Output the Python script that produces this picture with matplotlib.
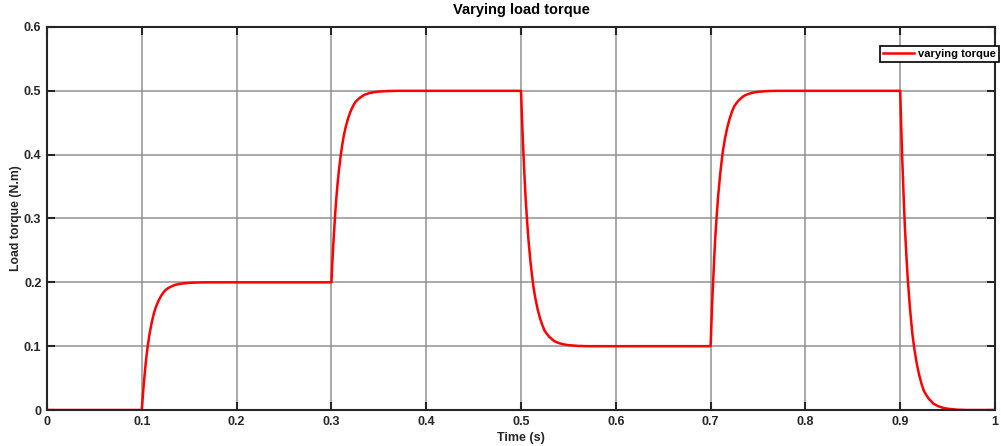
import numpy as np
import matplotlib.pyplot as plt

plt.rcParams['font.family'] = ['Liberation Sans', 'DejaVu Sans']
plt.rcParams['font.weight'] = 'bold'

# step instants and torque levels (N.m)
step_times = [0.0, 0.1, 0.3, 0.5, 0.7, 0.9]
step_levels = [0.0, 0.2, 0.5, 0.1, 0.5, 0.0]
t_end = 1.0

# shape of each transition: time after step (s) vs fraction done
resp_dt = [0.0, 0.001, 0.002, 0.003, 0.004, 0.005, 0.0065, 0.008, 0.01,
           0.0115, 0.013, 0.015, 0.0175, 0.02, 0.0225, 0.025, 0.0275, 0.03,
           0.035, 0.04, 0.045, 0.05, 0.06, 0.07]
resp_frac = [0.0, 0.105, 0.2, 0.28, 0.36, 0.43, 0.515, 0.59, 0.67,
             0.72, 0.765, 0.81, 0.855, 0.89, 0.918, 0.94, 0.953, 0.964,
             0.98, 0.988, 0.993, 0.996, 0.999, 1.0]

# build the trace from the steps
t = [0.0]
y = [step_levels[0]]
for i in range(1, len(step_times)):
    prev = step_levels[i - 1]
    new = step_levels[i]
    for dt, f in zip(resp_dt, resp_frac):
        t.append(step_times[i] + dt)
        y.append(prev + (new - prev) * f)
    nxt = step_times[i + 1] if i + 1 < len(step_times) else t_end
    t.append(nxt)
    y.append(new)

fig = plt.figure(figsize=(10.01, 4.46), dpi=100)
ax = fig.add_axes([0.047, 0.0807, 0.947, 0.8588])

ax.plot(t, y, color='#ff0000', lw=1.8, label='varying torque')

ax.set_xlim(0, 1)
ax.set_ylim(0, 0.6)
ax.set_xticks(np.arange(0, 1.01, 0.1))
ax.set_xticklabels(['0', '0.1', '0.2', '0.3', '0.4', '0.5', '0.6', '0.7', '0.8', '0.9', '1'])
ax.set_yticks(np.arange(0, 0.61, 0.1))
ax.set_yticklabels(['0', '0.1', '0.2', '0.3', '0.4', '0.5', '0.6'])
ax.grid(True, color='#8c8c8c', lw=1.3, alpha=0.8)
ax.tick_params(direction='in', length=6, width=1.5, top=True, right=True,
               labelsize=9, pad=4, color='#262626', labelcolor='#262626')
for s in ax.spines.values():
    s.set_linewidth(1.5)
    s.set_color('#262626')

ax.set_title('Varying load torque', fontsize=10.5, fontweight='bold', pad=9)
ax.set_xlabel('Time (s)', fontsize=9, fontweight='bold', labelpad=3,
              color='#262626')
ax.set_ylabel('Load torque (N.m)', fontsize=8.8, fontweight='bold', labelpad=1,
              color='#262626')

leg = ax.legend(loc='upper right', bbox_to_anchor=(1.004, 0.95), fontsize=8,
                fancybox=False, framealpha=1, edgecolor='black',
                borderpad=0.25, handlelength=2.8, handletextpad=0.4,
                borderaxespad=0)
leg.get_frame().set_linewidth(1.2)

fig.savefig('out.png', dpi=100)
